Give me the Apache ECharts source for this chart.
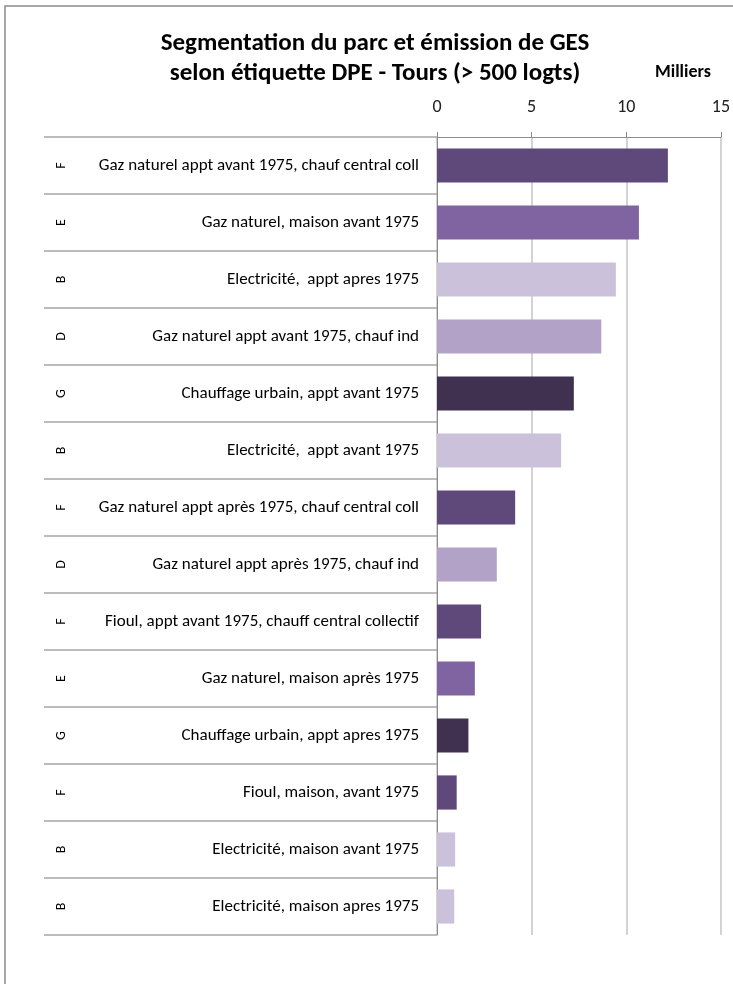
<!DOCTYPE html>
<html>
<head>
<meta charset="utf-8">
<script src="https://cdn.jsdelivr.net/npm/echarts@6/dist/echarts.min.js"></script>
<style>
  html, body { margin: 0; padding: 0; background: #fff; }
  #chart { width: 733px; height: 984px; }
</style>
</head>
<body>
<div id="chart"></div>
<script>
// Housing segments, ordered from the largest stock to the smallest
const categories = [
  'Gaz naturel appt avant 1975, chauf central coll',
  'Gaz naturel, maison avant 1975',
  'Electricité,  appt apres 1975',
  'Gaz naturel appt avant 1975, chauf ind',
  'Chauffage urbain, appt avant 1975',
  'Electricité,  appt avant 1975',
  'Gaz naturel appt après 1975, chauf central coll',
  'Gaz naturel appt après 1975, chauf ind',
  'Fioul, appt avant 1975, chauff central collectif',
  'Gaz naturel, maison après 1975',
  'Chauffage urbain, appt apres 1975',
  'Fioul, maison, avant 1975',
  'Electricité, maison avant 1975',
  'Electricité, maison apres 1975'
];
// DPE label of each segment
const dpeClasses = ['F', 'E', 'B', 'D', 'G', 'B', 'F', 'D', 'F', 'E', 'G', 'F', 'B', 'B'];
// Number of dwellings, in thousands
const dwellings = [12.2, 10.67, 9.45, 8.68, 7.23, 6.56, 4.13, 3.16, 2.33, 2.0, 1.66, 1.04, 0.96, 0.91];
// Value axis ticks
const axisTicks = [0, 5, 10, 15];

const classColor = {
  B: '#CCC1DA',
  D: '#B3A2C7',
  E: '#8064A2',
  F: '#5F497A',
  G: '#403151'
};

const FONT = 'Carlito, "Liberation Sans", Arial, sans-serif';

const chart = echarts.init(document.getElementById('chart'), null, { renderer: 'canvas' });

chart.setOption({
  backgroundColor: '#ffffff',
  animation: false,
  title: {
    text: 'Segmentation du parc et émission de GES\nselon étiquette DPE - Tours (> 500 logts)',
    left: 370,
    textAlign: 'center',
    top: 24,
    textStyle: {
      fontFamily: FONT,
      fontSize: 25,
      fontWeight: 'bold',
      color: '#000',
      lineHeight: 30
    }
  },
  graphic: [
    {
      type: 'rect',
      silent: true,
      shape: { x: 5, y: 6, width: 900, height: 1100 },
      style: { fill: null, stroke: '#8c8c8c', lineWidth: 1.5 }
    },
    {
      type: 'text',
      left: 655,
      top: 63,
      style: {
        text: 'Milliers',
        font: 'bold 18px ' + FONT,
        fill: '#000'
      }
    }
  ],
  grid: {
    left: 437,
    right: 12,
    top: 137,
    bottom: 49,
    containLabel: false
  },
  xAxis: {
    type: 'value',
    position: 'top',
    min: axisTicks[0],
    max: axisTicks[axisTicks.length - 1],
    interval: axisTicks[1] - axisTicks[0],
    axisLine: { show: true, lineStyle: { color: '#8c8c8c', width: 1 } },
    axisTick: { show: true, length: 5, lineStyle: { color: '#8c8c8c' } },
    axisLabel: {
      margin: 21,
      fontFamily: FONT,
      fontSize: 18,
      color: '#222'
    },
    splitLine: { show: true, lineStyle: { color: '#c4c4c4', width: 1.5 } }
  },
  yAxis: [
    {
      type: 'category',
      data: categories,
      inverse: true,
      axisLine: { show: true, lineStyle: { color: '#8c8c8c', width: 1 } },
      axisTick: {
        show: true,
        inside: false,
        length: 393,
        interval: 0,
        lineStyle: { color: '#a6a6a6', width: 1.5 }
      },
      axisLabel: {
        margin: 18,
        fontFamily: FONT,
        fontSize: 17,
        color: '#000'
      },
      splitLine: { show: false }
    },
    {
      type: 'category',
      data: dpeClasses,
      inverse: true,
      position: 'left',
      offset: 376,
      axisLine: { show: false },
      axisTick: { show: false },
      axisLabel: {
        rotate: 90,
        margin: 0,
        fontFamily: FONT,
        fontSize: 14,
        color: '#000',
        align: 'center',
        verticalAlign: 'middle'
      },
      splitLine: { show: false }
    }
  ],
  series: [
    {
      type: 'bar',
      yAxisIndex: 0,
      data: dwellings.map((v, i) => ({
        value: v,
        itemStyle: { color: classColor[dpeClasses[i]] }
      })),
      barWidth: '60%',
      itemStyle: { borderWidth: 0 }
    }
  ]
});
</script>
</body>
</html>
